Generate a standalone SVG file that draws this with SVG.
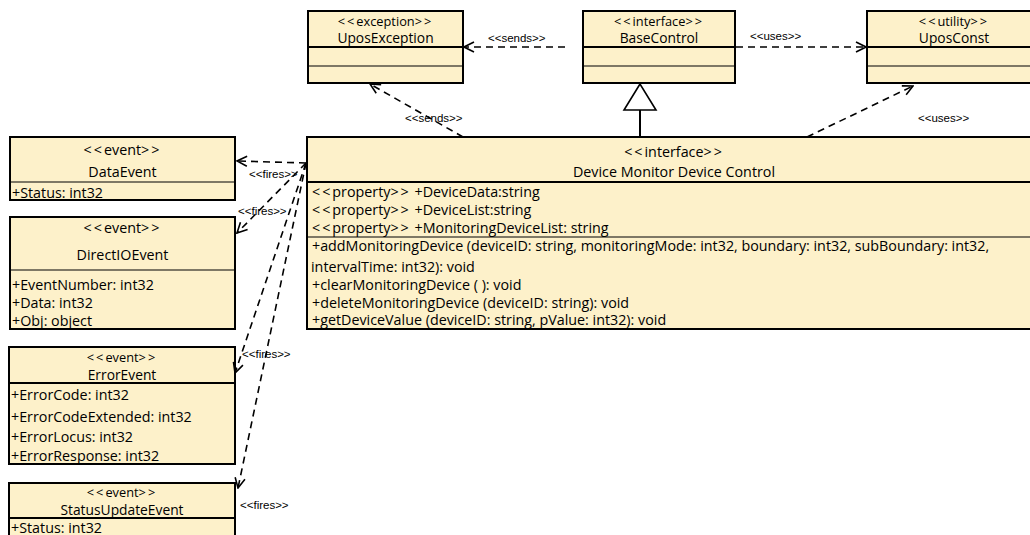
<svg xmlns="http://www.w3.org/2000/svg" width="1030" height="535" viewBox="0 0 1030 535">
<defs>
<style>
.box{fill:#FDF1CA;stroke:#000;stroke-width:2}
.thick{stroke:#000;stroke-width:2}
.thin{stroke:#000;stroke-width:1.2}
.t{font-family:"Open Sans","Noto Sans",sans-serif;font-size:14.3px;fill:#000}
.s{font-size:12.8px}
.n{font-size:13.8px}
.c{text-anchor:middle}
.b{letter-spacing:2px}
.lbl{font-family:"Liberation Sans",Arial,sans-serif;font-size:11.5px;fill:#000}
.dep{fill:none;stroke:#000;stroke-width:1.6;stroke-dasharray:7 5;marker-end:url(#open)}
</style>
<marker id="open" viewBox="0 0 12 12" refX="11" refY="6" markerWidth="12" markerHeight="12" markerUnits="userSpaceOnUse" orient="auto">
<path d="M1,1 L11,6 L1,11" fill="none" stroke="#000" stroke-width="1.6"/>
</marker>
</defs>
<rect width="1030" height="535" fill="#fff"/>

<g id="UposException">
<rect class="box" x="308" y="11" width="155" height="72"/>
<line class="thick" x1="308" y1="47" x2="463" y2="47"/>
<line class="thin" x1="308" y1="66" x2="463" y2="66"/>
<text class="t s c" x="385.5" y="25.5"><tspan class="b">&lt;&lt;</tspan>exception<tspan class="b">&gt;&gt;</tspan></text>
<text class="t n c" x="385.5" y="43">UposException</text>
</g>

<g id="BaseControl">
<rect class="box" x="583" y="11" width="152" height="72"/>
<line class="thick" x1="583" y1="47" x2="735" y2="47"/>
<line class="thin" x1="583" y1="66" x2="735" y2="66"/>
<text class="t s c" x="659" y="25.5"><tspan class="b">&lt;&lt;</tspan>interface<tspan class="b">&gt;&gt;</tspan></text>
<text class="t n c" x="659" y="43">BaseControl</text>
</g>

<g id="UposConst">
<rect class="box" x="867" y="11" width="174" height="72"/>
<line class="thick" x1="867" y1="47" x2="1041" y2="47"/>
<line class="thin" x1="867" y1="66" x2="1041" y2="66"/>
<text class="t s c" x="954" y="25.5"><tspan class="b">&lt;&lt;</tspan>utility<tspan class="b">&gt;&gt;</tspan></text>
<text class="t n c" x="954" y="43">UposConst</text>
</g>

<g id="DeviceMonitorDeviceControl">
<rect class="box" x="307" y="137" width="734" height="192"/>
<line class="thick" x1="307" y1="182" x2="1041" y2="182"/>
<line class="thin" x1="307" y1="237" x2="1041" y2="237"/>
<text class="t c" x="674" y="156.5"><tspan class="b">&lt;&lt;</tspan>interface<tspan class="b">&gt;&gt;</tspan></text>
<text class="t c" x="674" y="177">Device Monitor Device Control</text>
<text class="t" x="312" y="196.5"><tspan class="b">&lt;&lt;</tspan>property<tspan class="b">&gt;&gt;</tspan> +DeviceData:string</text>
<text class="t" x="312" y="215"><tspan class="b">&lt;&lt;</tspan>property<tspan class="b">&gt;&gt;</tspan> +DeviceList:string</text>
<text class="t" x="312" y="232.5"><tspan class="b">&lt;&lt;</tspan>property<tspan class="b">&gt;&gt;</tspan> +MonitoringDeviceList: string</text>
<text class="t" x="312" y="250.5">+addMonitoringDevice (deviceID: string, monitoringMode: int32, boundary: int32, subBoundary: int32,</text>
<text class="t" x="311" y="271.5">intervalTime: int32): void</text>
<text class="t" x="312" y="289.5">+clearMonitoringDevice ( ): void</text>
<text class="t" x="312" y="307.5">+deleteMonitoringDevice (deviceID: string): void</text>
<text class="t" x="312" y="325">+getDeviceValue (deviceID: string, pValue: int32): void</text>
</g>

<g id="DataEvent">
<rect class="box" x="10" y="137" width="225" height="63"/>
<line class="thin" x1="10" y1="182" x2="235" y2="182"/>
<text class="t c" x="122.5" y="155"><tspan class="b">&lt;&lt;</tspan>event<tspan class="b">&gt;&gt;</tspan></text>
<text class="t c" x="122.5" y="177">DataEvent</text>
<text class="t" x="12" y="198">+Status: int32</text>
</g>

<g id="DirectIOEvent">
<rect class="box" x="10" y="217" width="225" height="112"/>
<line class="thin" x1="10" y1="270" x2="235" y2="270"/>
<text class="t c" x="122.5" y="233"><tspan class="b">&lt;&lt;</tspan>event<tspan class="b">&gt;&gt;</tspan></text>
<text class="t c" x="122.5" y="260">DirectIOEvent</text>
<text class="t" x="12" y="290">+EventNumber: int32</text>
<text class="t" x="12" y="308">+Data: int32</text>
<text class="t" x="12" y="326">+Obj: object</text>
</g>

<g id="ErrorEvent">
<rect class="box" x="9" y="347" width="226" height="117"/>
<line class="thick" x1="9" y1="383" x2="235" y2="383"/>
<text class="t s c" x="122" y="362"><tspan class="b">&lt;&lt;</tspan>event<tspan class="b">&gt;&gt;</tspan></text>
<text class="t n c" x="122" y="379.5">ErrorEvent</text>
<text class="t" x="11" y="400">+ErrorCode: int32</text>
<text class="t" x="11" y="422">+ErrorCodeExtended: int32</text>
<text class="t" x="11" y="442">+ErrorLocus: int32</text>
<text class="t" x="11" y="461">+ErrorResponse: int32</text>
</g>

<g id="StatusUpdateEvent">
<rect class="box" x="9" y="483" width="226" height="70"/>
<line class="thick" x1="9" y1="518" x2="235" y2="518"/>
<text class="t s c" x="122" y="497"><tspan class="b">&lt;&lt;</tspan>event<tspan class="b">&gt;&gt;</tspan></text>
<text class="t n c" x="122" y="514.5">StatusUpdateEvent</text>
<text class="t" x="11" y="533">+Status: int32</text>
</g>

<g id="connectors">
<path class="dep" d="M565,47 L464,47"/>
<text class="lbl" x="488" y="42">&lt;&lt;sends&gt;&gt;</text>
<path class="dep" d="M736,47 L866,47"/>
<text class="lbl" x="750" y="40">&lt;&lt;uses&gt;&gt;</text>
<path class="dep" d="M463,137 L370,84"/>
<text class="lbl" x="405" y="122">&lt;&lt;sends&gt;&gt;</text>
<path class="dep" d="M807,137 L913,86"/>
<text class="lbl" x="918" y="122">&lt;&lt;uses&gt;&gt;</text>
<line x1="640" y1="137" x2="640" y2="110" stroke="#000" stroke-width="2"/>
<polygon points="640,84 624,110 656,110" fill="#fff" stroke="#000" stroke-width="1.6"/>
<path class="dep" d="M306,163 L237,161"/>
<text class="lbl" x="249" y="178">&lt;&lt;fires&gt;&gt;</text>
<path class="dep" d="M306,163 L237,233"/>
<text class="lbl" x="238" y="215">&lt;&lt;fires&gt;&gt;</text>
<path class="dep" d="M306,163 L235,373"/>
<text class="lbl" x="242" y="358">&lt;&lt;fires&gt;&gt;</text>
<path class="dep" d="M306,163 L238,488"/>
<text class="lbl" x="240" y="509">&lt;&lt;fires&gt;&gt;</text>
</g>
</svg>
